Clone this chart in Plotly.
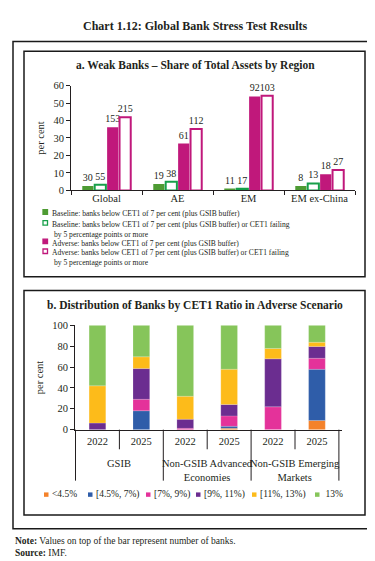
import plotly.graph_objects as go
import numpy as np

W, H = 375, 561
FONT = "Liberation Serif"
TXT = "#231F20"

# ---------------- Panel a data ----------------
regions = ["Global", "AE", "EM", "EM ex-China"]
baseline = [2.6, 3.7, 0.6, 2.6]
baseline_or = [3.2, 5.0, 1.0, 4.0]
adverse = [36.2, 26.8, 53.8, 9.2]
adverse_or = [41.9, 35.1, 54.2, 11.7]
n_baseline = [30, 19, 11, 8]
n_baseline_or = [55, 38, 17, 13]
n_adverse = [153, 61, 92, 18]
n_adverse_or = [215, 112, 103, 27]
legend_a = [
    "Baseline: banks below CET1 of 7 per cent (plus GSIB buffer)",
    "Baseline: banks below CET1 of 7 per cent (plus GSIB buffer) or CET1 failing<br> by 5 percentage points or more",
    "Adverse: banks below CET1 of 7 per cent (plus GSIB buffer)",
    "Adverse: banks below CET1 of 7 per cent (plus GSIB buffer) or CET1 failing<br> by 5 percentage points or more",
]

# ---------------- Panel b data ----------------
groups = ["GSIB", "GSIB",
          "Non-GSIB Advanced<br>Economies", "Non-GSIB Advanced<br>Economies",
          "Non-GSIB Emerging<br>Markets", "Non-GSIB Emerging<br>Markets"]
years = ["2022", "2025", "2022", "2025", "2022", "2025"]
buckets = ["<4.5%", "[4.5%, 7%)", "[7%, 9%)", "[9%, 11%)", "[11%, 13%)", " 13%"]
share_lt45 = [0, 0, 0, 1.3, 0, 8.8]
share_45_7 = [0, 18.1, 0, 1.9, 0, 49.0]
share_7_9 = [0, 11.0, 1.3, 10.0, 21.9, 10.6]
share_9_11 = [6.3, 29.4, 8.7, 10.9, 45.9, 11.3]
share_11_13 = [35.7, 11.3, 22.0, 33.8, 10.0, 4.0]
share_ge13 = [58.0, 30.2, 68.0, 42.1, 22.2, 16.3]

GREEN_D = "#4E9B33"
GREEN_O = "#17A04A"
MAG = "#C0187B"
colors_b = ["#F4822A", "#2F5DA9", "#E4329A", "#6B2D90", "#FDBB1A", "#86C55A"]


def px(x):
    return x / W


def py(y):
    return 1 - y / H


fig = go.Figure()

# Panel a bars
series_a = [
    (baseline, n_baseline, GREEN_D, GREEN_D, 0, legend_a[0]),
    (baseline_or, n_baseline_or, "white", GREEN_O, 2, legend_a[1]),
    (adverse, n_adverse, MAG, MAG, 0, legend_a[2]),
    (adverse_or, n_adverse_or, "white", MAG, 2, legend_a[3]),
]
for vals, labels, fill, line, lw, name in series_a:
    fig.add_trace(go.Bar(
        x=regions, y=vals, name=name, text=[str(v) for v in labels],
        textposition="outside", constraintext="none", cliponaxis=False,
        textfont=dict(family=FONT, size=10, color=TXT),
        marker=dict(color=fill, line=dict(color=line, width=lw)),
        xaxis="x", yaxis="y", showlegend=False,
    ))

# Panel b stacked bars (shared offset group, explicit bases)
bar_ids = [g + "|" + y for g, y in zip(groups, years)]
shares_b = [share_lt45, share_45_7, share_7_9, share_9_11, share_11_13, share_ge13]
cum = np.zeros(len(years))
for name, vals, col in zip(buckets, shares_b, colors_b):
    v = np.array(vals, dtype=float)
    fig.add_trace(go.Bar(
        x=bar_ids, y=v, base=cum.copy(), name=name,
        offsetgroup="b", width=0.38,
        marker=dict(color=col, line=dict(color="rgba(255,255,255,0.35)", width=0.5)),
        xaxis="x2", yaxis="y2", showlegend=False,
    ))
    cum = cum + v

shapes = []
# Boxes
shapes.append(dict(type="rect", xref="paper", yref="paper", x0=px(5), x1=px(368), y0=py(526), y1=py(29),
                   line=dict(color="#1a1a1a", width=1.5)))
shapes.append(dict(type="rect", xref="paper", yref="paper", x0=px(16), x1=px(357), y0=py(269), y1=py(39),
                   line=dict(color="#1a1a1a", width=1.5)))
shapes.append(dict(type="rect", xref="paper", yref="paper", x0=px(16), x1=px(357), y0=py(512), y1=py(283),
                   line=dict(color="#1a1a1a", width=1.5)))

# Panel b category boundaries (inner ticks and group dividers) in axis coordinates
n_bars = len(bar_ids)
for k in range(n_bars + 1):
    xb = k - 0.5
    is_div = (k == 0 or k == n_bars or groups[k] != groups[k - 1])
    shapes.append(dict(type="line", xref="x2", yref="paper", x0=xb, x1=xb,
                       y0=py(425), y1=py(477 if is_div else 445),
                       line=dict(color="#231F20", width=1)))

annotations = []
# Titles
annotations.append(dict(text="<b>Chart 1.12: Global Bank Stress Test Results</b>", x=px(187), y=py(13),
                        xref="paper", yref="paper", showarrow=False, xanchor="center", yanchor="middle",
                        font=dict(family=FONT, size=12, color=TXT)))
annotations.append(dict(text="<b>a. Weak Banks – Share of Total Assets by Region</b>", x=px(187), y=py(54),
                        xref="paper", yref="paper", showarrow=False, xanchor="center", yanchor="middle",
                        font=dict(family=FONT, size=11.5, color=TXT)))
annotations.append(dict(text="<b>b. Distribution of Banks by CET1 Ratio in Adverse Scenario</b>", x=px(187), y=py(298),
                        xref="paper", yref="paper", showarrow=False, xanchor="center", yanchor="middle",
                        font=dict(family=FONT, size=11.5, color=TXT)))

# Panel b group labels
uniq_groups = list(dict.fromkeys(groups))
for g in uniq_groups:
    idx = [i for i, gg in enumerate(groups) if gg == g]
    annotations.append(dict(text=g, x=float(np.mean(idx)), y=py(452), xref="x2", yref="paper",
                            showarrow=False, xanchor="center", yanchor="top", align="center",
                            font=dict(family=FONT, size=10.5, color=TXT)))

# Legend a (manual)
rows_y = [203, 214, 233, 243]
sw_fill = [GREEN_D, "white", MAG, "white"]
sw_line = [GREEN_D, GREEN_O, MAG, MAG]
for i, txt in enumerate(legend_a):
    yc = rows_y[i]
    shapes.append(dict(type="rect", xref="paper", yref="paper", x0=px(35), x1=px(39.5), y0=py(yc + 2.3), y1=py(yc - 2.3),
                       fillcolor=sw_fill[i], line=dict(color=sw_line[i], width=1.3)))
    annotations.append(dict(text=txt, x=px(41.5), y=py(yc - 5), xref="paper", yref="paper", showarrow=False,
                            xanchor="left", yanchor="top", align="left",
                            font=dict(family=FONT, size=7.6, color=TXT)))

# Legend b (manual)
leg_b_x = [36, 80, 138, 188, 244, 307]
for i, name in enumerate(buckets):
    x0 = leg_b_x[i]
    shapes.append(dict(type="rect", xref="paper", yref="paper", x0=px(x0), x1=px(x0 + 4.5), y0=py(493.5), y1=py(489),
                       fillcolor=colors_b[i], line=dict(width=0)))
    annotations.append(dict(text=name, x=px(x0 + 5.5), y=py(491), xref="paper", yref="paper", showarrow=False,
                            xanchor="left", yanchor="middle",
                            font=dict(family=FONT, size=9.5, color=TXT)))

# Footer
annotations.append(dict(text="<b>Note:</b> Values on top of the bar represent number of banks.", x=px(5), y=py(539),
                        xref="paper", yref="paper", showarrow=False, xanchor="left", yanchor="middle",
                        font=dict(family=FONT, size=9.5, color=TXT)))
annotations.append(dict(text="<b>Source:</b> IMF.", x=px(5), y=py(551),
                        xref="paper", yref="paper", showarrow=False, xanchor="left", yanchor="middle",
                        font=dict(family=FONT, size=9.5, color=TXT)))

axis_common = dict(showgrid=False, zeroline=False, showline=True, linecolor="#231F20", linewidth=1,
                   tickcolor="#231F20", tickfont=dict(family=FONT, size=10.5, color=TXT))

fig.update_layout(
    width=W, height=H, margin=dict(l=0, r=0, t=0, b=0),
    paper_bgcolor="white", plot_bgcolor="white",
    barmode="group", bargap=0.30, bargroupgap=0.1,
    font=dict(family=FONT, color=TXT),
    xaxis=dict(domain=[px(63), px(347)], anchor="y", ticks="outside", tickson="boundaries", ticklen=4,
               ticklabelstandoff=-2, **axis_common),
    yaxis=dict(domain=[py(181), py(74)], anchor="x", range=[0, 60], dtick=10, ticks="outside", ticklen=4,
               title=dict(text="per cent", font=dict(family=FONT, size=10.5, color=TXT), standoff=6),
               **axis_common),
    xaxis2=dict(domain=[px(67), px(334)], anchor="y2", type="category", ticks="",
                tickmode="array", tickvals=bar_ids, ticktext=years, ticklabelstandoff=2,
                **axis_common),
    yaxis2=dict(domain=[py(425), py(318.5)], anchor="x2", range=[0, 100], dtick=20, ticks="outside", ticklen=4,
                title=dict(text="per cent", font=dict(family=FONT, size=10.5, color=TXT), standoff=6),
                **axis_common),
    shapes=shapes, annotations=annotations,
)

fig.write_html("out.html")
